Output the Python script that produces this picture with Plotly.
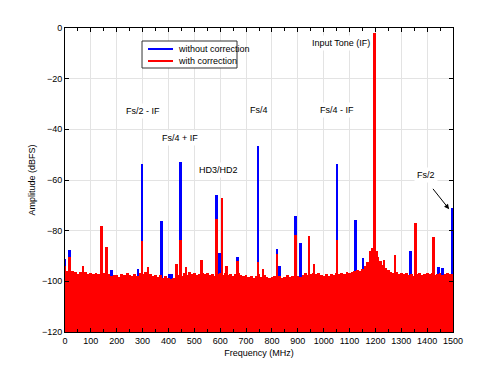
import plotly.graph_objects as go

# ---------------- data ----------------
FLOOR_STEP = 10
floor_freq = list(range(0, 1501, FLOOR_STEP))  # MHz
red_floor = [
    -95.5, -96.0, -96.5, -95.8, -96.4, -97.0, -96.2, -96.8, -96.5, -97.2,
    -96.8, -97.3, -96.6, -97.0, -97.5, -96.9, -97.8, -97.2, -98.0, -97.6,
    -97.4, -98.1, -97.0, -97.6, -96.8, -97.5, -97.9, -97.1, -97.7, -96.9,
    -97.3, -96.5, -97.8, -97.2, -98.0, -97.5, -98.2, -97.6, -98.5, -98.0,
    -98.8, -99.0, -98.6, -98.2, -97.5, -97.8, -96.9, -97.4, -96.5, -97.2,
    -96.8, -97.5, -97.0, -96.6, -97.3, -96.9, -97.6, -97.1, -97.8, -97.2,
    -96.7, -97.4, -96.9, -97.6, -97.0, -97.8, -97.3, -96.8, -97.5, -97.9,
    -97.6, -98.2, -97.8, -98.5, -97.9, -97.3, -98.1, -97.6, -98.4, -98.8,
    -98.2, -97.7, -98.4, -97.8, -98.6, -98.1, -97.5, -98.3, -97.9, -97.2,
    -97.8, -98.3, -97.4, -96.9, -97.5, -97.1, -96.6, -97.3, -96.8, -97.4,
    -97.9, -97.2, -97.7, -97.0, -97.5, -96.8, -97.3, -96.6, -97.1, -96.4,
    -96.9, -96.2, -96.0, -95.5, -96.1, -95.0, -94.0, -92.5, -91.0, -89.5,
    -89.0, -90.5, -92.0, -93.5, -94.8, -95.5, -96.2, -96.8, -96.4, -97.0,
    -96.7, -97.3, -96.9, -97.5, -97.1, -97.7, -97.2, -96.8, -97.4, -97.0,
    -96.6, -97.3, -96.9, -97.5, -97.0, -96.7, -97.4, -97.1, -96.8, -97.3,
    -97.0,
]

# spurs "without correction" (blue)
blue_spur_freq = [2, 19, 142, 180, 283, 299, 374, 405, 415, 447, 586, 599, 667,
                  747, 821, 831, 892, 911, 1053, 1124, 1153, 1197, 1336, 1445,
                  1460, 1497]
blue_spur_db = [-91.0, -87.6, -78.2, -95.5, -95.0, -53.6, -76.3, -97.0, -97.3,
                -53.0, -66.0, -89.0, -90.3, -46.6, -87.4, -94.0, -74.2, -85.0,
                -53.6, -75.8, -90.9, -2.0, -88.0, -94.5, -94.8, -71.2]

# spurs "with correction" (red)
red_spur_freq = [2, 19, 71, 142, 161, 299, 322, 432, 447, 468, 528, 586, 607,
                 625, 667, 747, 767, 821, 892, 944, 963, 1053, 1180, 1190, 1197,
                 1205, 1234, 1276, 1356, 1426]
red_spur_db = [-94.0, -90.3, -94.0, -78.2, -86.3, -84.0, -94.2, -93.0, -83.7,
               -94.3, -91.6, -75.2, -67.0, -94.0, -92.0, -92.2, -95.0, -89.4,
               -81.7, -82.0, -93.0, -83.7, -88.0, -87.0, -2.0, -88.0, -91.6,
               -89.6, -76.9, -82.6]

series_names = ["without correction", "with correction"]

labels = ["Input Tone (IF)", "Fs/2 - IF", "Fs/4 + IF", "HD3/HD2", "Fs/4",
          "Fs/4 - IF", "Fs/2"]
label_freq = [1067, 303, 446, 594, 749, 1051, 1394]
label_db = [-6.0, -32.6, -43.3, -56.0, -32.4, -32.4, -58.0]

X_RANGE = [0, 1500]
Y_RANGE = [-120, 0]
BASE = Y_RANGE[0]

BLUE = "#0000ff"
RED = "#ff0000"
FONT = "Liberation Sans, Arial, Helvetica, sans-serif"

fig = go.Figure()


def bars(x, vals, color, width, name):
    return go.Bar(
        x=x, y=[v - BASE for v in vals], base=BASE, width=width, name=name,
        marker=dict(color=color, line=dict(width=0)),
        showlegend=False, hoverinfo="skip",
    )


fig.add_trace(bars(blue_spur_freq, blue_spur_db, BLUE, 7.5, series_names[0]))
fig.add_trace(bars(floor_freq, red_floor, RED, FLOOR_STEP + 1, series_names[1]))
fig.add_trace(bars(red_spur_freq, red_spur_db, RED, 7.5, series_names[1]))

for t, fx, fy in zip(labels, label_freq, label_db):
    fig.add_annotation(x=fx, y=fy, text=t, showarrow=False,
                       font=dict(size=9, color="black", family=FONT),
                       bgcolor="white", borderpad=2)

# arrow towards Fs/2
fig.add_annotation(x=1485, y=-71.5, ax=1418, ay=-62.9, axref="x", ayref="y",
                   xref="x", yref="y", text="", showarrow=True, arrowhead=2,
                   arrowsize=1, arrowwidth=1, arrowcolor="black")

# legend box (drawn in paper coordinates, matlab style)
fig.add_shape(type="rect", xref="paper", yref="paper",
              x0=0.1985, x1=0.4433, y0=0.8684, y1=0.9572,
              line=dict(color="#333333", width=1), fillcolor="white", layer="above")
for name, color, ly in zip(series_names, [BLUE, RED], [0.9309, 0.8914]):
    fig.add_shape(type="line", xref="paper", yref="paper",
                  x0=0.2139, x1=0.2784, y0=ly, y1=ly,
                  line=dict(color=color, width=2), layer="above")
    fig.add_annotation(xref="paper", yref="paper", x=0.2861, y=ly, text=name,
                       showarrow=False, xanchor="left", yanchor="middle",
                       font=dict(size=9, color="black", family=FONT))

axis_common = dict(
    showline=True, linecolor="black", linewidth=1, mirror="allticks",
    ticks="inside", ticklen=4, tickcolor="black", showgrid=True,
    gridcolor="#e3e3e3", gridwidth=1, zeroline=False,
    tickfont=dict(size=9, color="black", family=FONT),
)

# page body has an 8px margin, so the figure is 8px smaller than the window
fig.update_layout(
    width=492, height=366,
    margin=dict(l=57, r=47, t=20, b=42),
    paper_bgcolor="white", plot_bgcolor="white",
    barmode="overlay", bargap=0, showlegend=False,
    font=dict(family=FONT, size=9, color="black"),
    xaxis=dict(range=X_RANGE, dtick=100, tick0=0,
               minor=dict(dtick=50, ticks="inside", ticklen=3, tickcolor="black",
                          showgrid=False),
               title=dict(text="Frequency (MHz)", standoff=4,
                          font=dict(size=9, family=FONT)),
               **axis_common),
    yaxis=dict(range=Y_RANGE, dtick=20, tick0=0,
               title=dict(text="Amplitude (dBFS)", standoff=4,
                          font=dict(size=9, family=FONT)),
               **axis_common),
)

fig.write_html("out.html")
